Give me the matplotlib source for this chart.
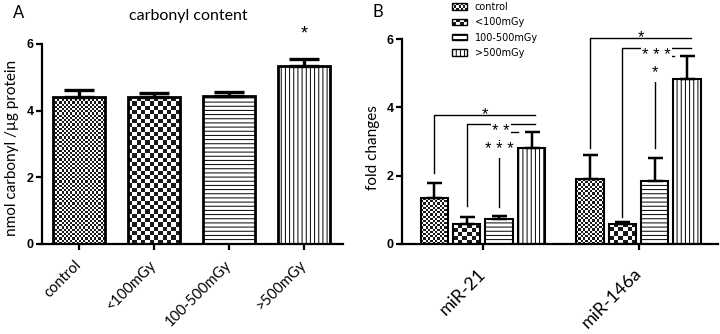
import matplotlib
matplotlib.use("Agg")
import matplotlib.pyplot as plt
import numpy as np
from matplotlib.colors import ListedColormap
from matplotlib.legend_handler import HandlerBase
from matplotlib.patches import Patch, Rectangle

# panel A: carbonyl content
groups = ["control", "<100mGy", "100-500mGy", ">500mGy"]
carbonyl_mean = [4.40, 4.41, 4.43, 5.35]
carbonyl_err = [0.22, 0.11, 0.13, 0.20]

# panel B: fold changes (rows = miRNA, cols = dose group)
mirnas = ["miR-21", "miR-146a"]
fold_mean = [[1.34, 0.58, 0.72, 2.82],
             [1.89, 0.60, 1.85, 4.82]]
fold_err = [[0.45, 0.20, 0.11, 0.45],
            [0.71, 0.05, 0.66, 0.68]]

# significance brackets: (miRNA index, left bar, line y, left drop y, label)
brackets = [(0, 0, 3.77, 2.08, "*"),
            (0, 1, 3.51, 1.11, "* *"),
            (0, 2, 3.27, 1.07, "* * *"),
            (1, 0, 6.03, 2.82, "*"),
            (1, 1, 5.74, 0.79, "* * *"),
            (1, 2, 5.51, 2.82, "*")]

# fill style per group: ("checker", cell px) or ("hatch", pattern)
FILLS = [("checker", 2.2), ("checker", 4.3), ("hatch", "----"), ("hatch", "||||")]
CHECKER_CMAP = ListedColormap(["white", "#1a1a1a"])
NUM_FONT = dict(family="Liberation Sans", fontweight="bold", fontsize=9)
TXT_FONT = "Lato"
STAR_FONT = "Liberation Sans"


def fill_checker(ax, bar, cell_px):
    x0, y0 = bar.get_x(), bar.get_y()
    w, h = bar.get_width(), bar.get_height()
    p0 = ax.transData.transform((x0, y0))
    p1 = ax.transData.transform((x0 + w, y0 + h))
    nx = max(1, int(round((p1[0] - p0[0]) / cell_px)))
    ny = max(1, int(round((p1[1] - p0[1]) / cell_px)))
    grid = np.indices((ny, nx)).sum(axis=0) % 2
    im = ax.imshow(grid, cmap=CHECKER_CMAP, extent=(x0, x0 + w, y0, y0 + h),
                   aspect="auto", interpolation="nearest", origin="lower", zorder=1)
    im.set_clip_path(bar)


class CheckerHandler(HandlerBase):
    def __init__(self, nx, ny):
        super().__init__()
        self.nx, self.ny = nx, ny

    def create_artists(self, legend, orig_handle, xdescent, ydescent, width, height, fontsize, trans):
        x0, y0 = -xdescent, -ydescent
        cw, ch = width / self.nx, height / self.ny
        arts = [Rectangle((x0, y0), width, height, fc="white", ec="none", transform=trans)]
        for i in range(self.nx):
            for j in range(self.ny):
                if (i + j) % 2 == 0:
                    arts.append(Rectangle((x0 + i * cw, y0 + j * ch), cw, ch, fc="#1a1a1a",
                                          ec="none", transform=trans))
        arts.append(Rectangle((x0, y0), width, height, fill=False, ec="black", lw=1.0, transform=trans))
        return arts


def draw_bars(ax, x, heights, errs, width, lw, capsize):
    for xi, hi, ei, (kind, spec) in zip(x, heights, errs, FILLS):
        if kind == "hatch":
            ax.bar(xi, hi, width, facecolor="white", edgecolor="black", hatch=spec, lw=lw, zorder=2)
        else:
            bar = ax.bar(xi, hi, width, facecolor="white", edgecolor="none", zorder=0)[0]
            fill_checker(ax, bar, spec)
            ax.bar(xi, hi, width, fill=False, edgecolor="black", lw=lw, zorder=2)
    ax.errorbar(x, heights, yerr=[np.zeros(len(errs)), errs], fmt="none", ecolor="black",
                elinewidth=lw * 1.2, capsize=capsize, capthick=lw * 1.2, zorder=3)


def style_axes(ax, xlim):
    for s in ("top", "right"):
        ax.spines[s].set_visible(False)
    for s in ("left", "bottom"):
        ax.spines[s].set_linewidth(1.6)
    ax.set_xlim(*xlim)
    ax.set_ylim(0, 6)
    ax.set_yticks([0, 2, 4, 6])
    ax.tick_params(width=1.6, length=4.5)
    ax.tick_params(axis="y", pad=1.5)
    for lab in ax.get_yticklabels():
        lab.set(**NUM_FONT)


def main() -> None:
    plt.rcParams["hatch.linewidth"] = 0.7
    fig = plt.figure(figsize=(7.2, 3.34), dpi=100)

    # ---- panel A
    ax = fig.add_axes([42 / 720, 90 / 334, 301 / 720, 200 / 334])
    xa = np.arange(len(groups))
    style_axes(ax, (-0.49, 3.52))
    draw_bars(ax, xa, carbonyl_mean, carbonyl_err, 0.69, 2.0, 10.5)
    style_axes(ax, (-0.49, 3.52))
    ax.set_xticks(xa)
    ax.set_xticklabels(groups, rotation=45, ha="right", va="center", rotation_mode="anchor",
                       family=TXT_FONT, fontsize=10.5)
    ax.tick_params(axis="x", pad=9)
    ax.set_ylabel("nmol carbonyl /µg protein", family=TXT_FONT, fontsize=11)
    ax.yaxis.set_label_coords(-0.078, 0.48)
    ax.text(0.487, 1.14, "carbonyl content", transform=ax.transAxes, ha="center", va="center",
            family=TXT_FONT, fontsize=11.5)
    ax.text(xa[-1], 6.3, "*", ha="center", va="center", fontsize=13, family=STAR_FONT)
    fig.text(19 / 720, 1 - 13 / 334, "A", ha="center", va="center", family=TXT_FONT, fontsize=12)

    # ---- panel B
    bx = fig.add_axes([402 / 720, 90 / 334, 316 / 720, 205 / 334])
    xb = np.arange(len(mirnas))
    offsets = (np.arange(len(groups)) - 1.5) * 0.208
    style_axes(bx, (-0.52, 1.51))
    for gi in range(len(mirnas)):
        draw_bars(bx, xb[gi] + offsets, fold_mean[gi], fold_err[gi], 0.176, 1.5, 5.4)
    style_axes(bx, (-0.52, 1.51))
    bx.set_xticks(xb)
    bx.set_xticklabels(mirnas, rotation=45, ha="right", va="center", rotation_mode="anchor",
                       family=TXT_FONT, fontsize=13)
    bx.tick_params(axis="x", pad=15)
    bx.set_ylabel("fold changes", family=TXT_FONT, fontsize=11)
    bx.yaxis.set_label_coords(-0.07, 0.47)

    for gi, left, y_line, y_drop, label in brackets:
        x_left = xb[gi] + offsets[left]
        x_right = xb[gi] + offsets[3] + (0.025 if left < 2 else -0.085)
        bx.plot([x_left, x_left, x_right], [y_drop, y_line, y_line], color="black", lw=1.0,
                clip_on=False, zorder=4)
        if left == 0:
            bx.text((x_left + x_right) / 2, y_line - 0.2, label, ha="center", va="bottom",
                    fontsize=12, family=STAR_FONT, clip_on=False)
        elif left == 1:
            bx.text((x_left + x_right) / 2, y_line - 0.22, label, ha="center", va="center",
                    fontsize=12, family=STAR_FONT, zorder=5,
                    bbox=dict(fc="white", ec="none", pad=1.0))
        else:
            bx.text(x_left, y_line - 0.5, label, ha="center", va="center",
                    fontsize=12, family=STAR_FONT, zorder=5,
                    bbox=dict(fc="white", ec="none", pad=1.0))
    fig.text(378 / 720, 1 - 12 / 334, "B", ha="center", va="center", family=TXT_FONT, fontsize=12)

    handles = [Patch(label=g) for g in groups[:2]]
    handles += [Patch(facecolor="white", edgecolor="black", hatch=spec, lw=1.0, label=g)
                for g, (kind, spec) in zip(groups[2:], FILLS[2:])]
    fig.legend(handles=handles, labels=groups, loc="upper left",
               bbox_to_anchor=(447 / 720, 1 + 3 / 334), frameon=False, borderpad=0,
               handlelength=1.6, handleheight=0.65, handletextpad=0.75, labelspacing=0.55,
               prop=dict(family="DejaVu Sans", size=7),
               handler_map={handles[0]: CheckerHandler(7, 3), handles[1]: CheckerHandler(4, 2)})

    fig.savefig("out.png", dpi=100)
    plt.close(fig)


if __name__ == "__main__":
    main()
